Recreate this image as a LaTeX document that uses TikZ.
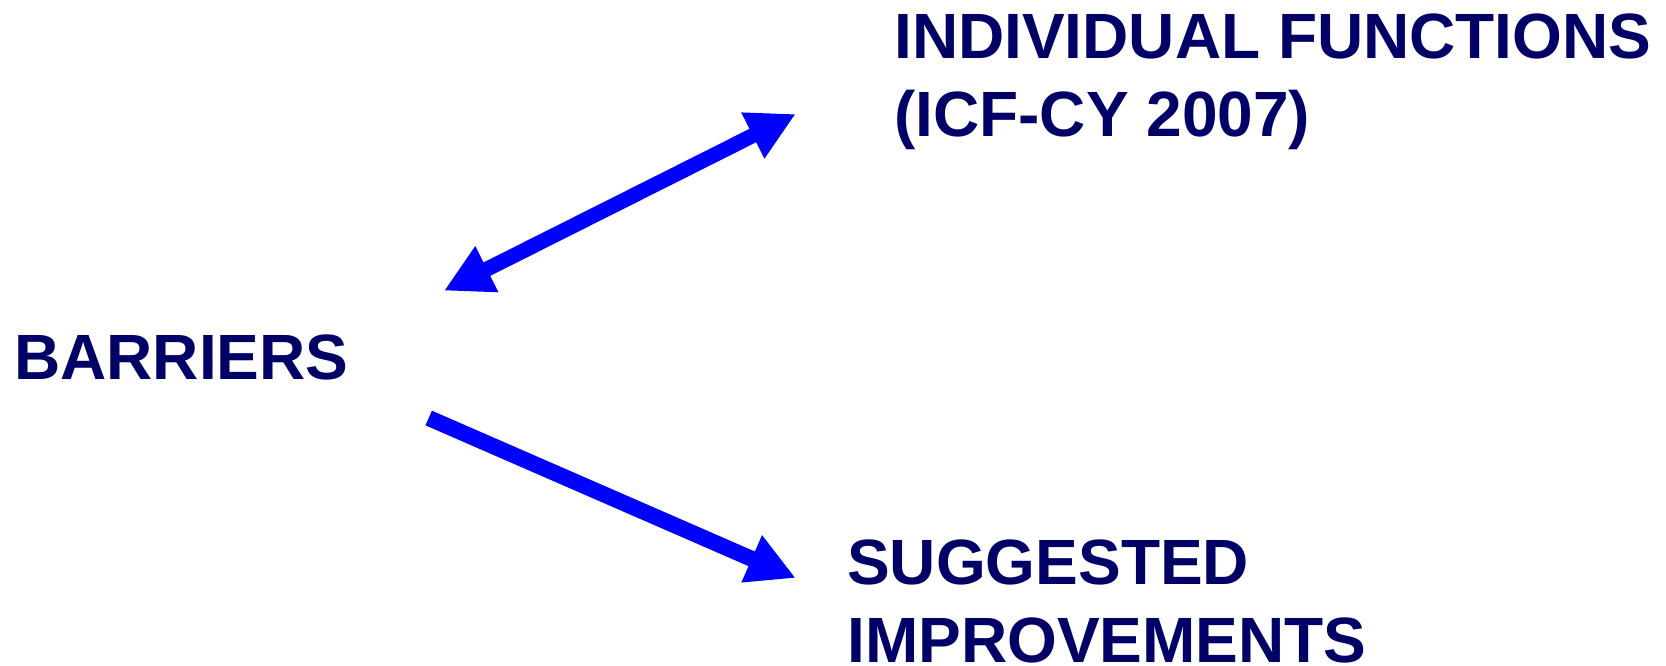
\documentclass[tikz,border=0pt]{standalone}
\usepackage{fontspec}
\setmainfont{Liberation Sans}
\usetikzlibrary{arrows.meta}
\definecolor{txtnavy}{RGB}{0,0,102}
\definecolor{arrblue}{RGB}{0,0,255}
\begin{document}
\begin{tikzpicture}[x=1pt,y=-1pt,
  lbl/.style={anchor=base west, inner sep=0pt, align=left, text=txtnavy,
    font=\bfseries\fontsize{64}{78}\selectfont},
  bigarrow/.style={draw=arrblue, line width=16pt,
    -{Triangle[length=48pt,width=48pt]}},
  dblarrow/.style={draw=arrblue, line width=15pt,
    {Triangle[length=48pt,width=48pt]}-{Triangle[length=48pt,width=48pt]}}]
\useasboundingbox (0,0) rectangle (1666,665);
\node[lbl] (barriers) at (14,379) {BARRIERS};
\node[lbl] (indiv) at (894,136) {INDIVIDUAL FUNCTIONS\\(ICF-CY 2007)};
\node[lbl] (sugg) at (847,662) {SUGGESTED\\IMPROVEMENTS};
\coordinate (d1) at (444,290.7);
\coordinate (d2) at (795.7,114);
\coordinate (s1) at (428.7,418);
\coordinate (s2) at (795.7,578);
\draw[dblarrow] (d1) -- (d2);
\draw[bigarrow] (s1) -- (s2);
\end{tikzpicture}
\end{document}
